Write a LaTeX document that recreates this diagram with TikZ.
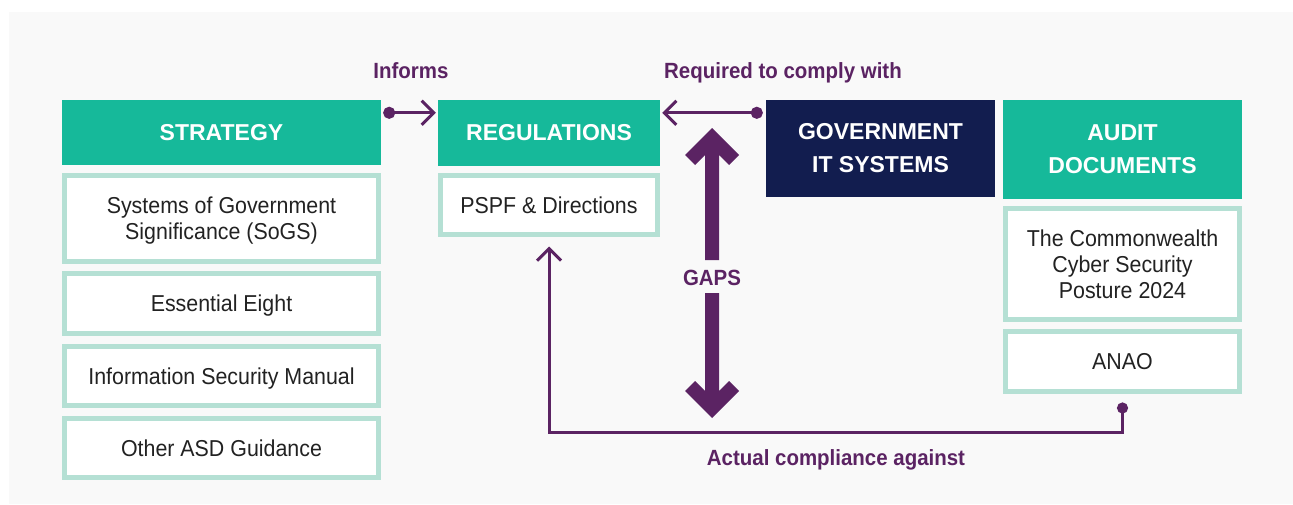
\documentclass[tikz,border=0pt]{standalone}
\usepackage{fontspec}
\usepackage{xcolor}
\usepackage{tikz}
\usetikzlibrary{positioning,arrows.meta}

\newfontfamily\headfont{Liberation Sans}
\newfontfamily\condfont[FakeStretch=0.93]{Liberation Sans}

\definecolor{headteal}{HTML}{16B99A}
\definecolor{itemline}{HTML}{B5E0D4}
\definecolor{govnavy}{HTML}{121D4F}
\definecolor{linkpurple}{HTML}{5B2363}
\definecolor{bggray}{HTML}{F9F9F9}
\definecolor{itemtext}{HTML}{222222}

\tikzset{
    head/.style={fill=headteal, text=white, align=center, inner sep=0pt,
        font=\headfont\bfseries\fontsize{23pt}{33pt}\selectfont},
    item/.style={draw=itemline, line width=5pt, fill=white, text=itemtext, align=center, inner sep=0pt,
        text depth=0pt, font=\condfont\fontsize{23pt}{26pt}\selectfont},
    lbl/.style={text=linkpurple, anchor=base, font=\condfont\bfseries\fontsize{22pt}{26pt}\selectfont},
    link/.style={draw=linkpurple, line width=3pt},
}

\begin{document}
\begin{tikzpicture}[x=1pt, y=-1pt]
    \useasboundingbox (0,0) rectangle (1293,504);
    \fill[white] (0,0) rectangle (1293,504);
    \fill[bggray] (9,12) rectangle (1293,504);

    % Strategy
    \node[head, minimum width=319pt, minimum height=65pt] (strategy) at (221.5,132.5) {STRATEGY};
    \node[item, minimum width=314pt, minimum height=86pt] (sogs) at (221.5,218.5) {Systems of Government\\Significance (SoGS)};
    \node[item, minimum width=314pt, minimum height=60pt] (eight) at (221.5,303.5) {Essential Eight};
    \node[item, minimum width=314pt, minimum height=59pt] (ism) at (221.5,376) {Information Security Manual};
    \node[item, minimum width=314pt, minimum height=59pt] (asd) at (221.5,448) {Other ASD Guidance};

    % Regulations
    \node[head, minimum width=222pt, minimum height=66pt] (regs) at (549,133) {REGULATIONS};
    \node[item, minimum width=217pt, minimum height=59pt] (pspf) at (549,205) {PSPF \& Directions};

    % Government IT systems
    \node[head, fill=govnavy, minimum width=229pt, minimum height=97pt] (govit) at (880.5,148.5) {GOVERNMENT\\IT SYSTEMS};

    % Audit documents
    \node[head, minimum width=239pt, minimum height=99pt] (audit) at (1122.5,149.5) {AUDIT\\DOCUMENTS};
    \node[item, minimum width=234pt, minimum height=111pt] (cw) at (1122.5,264) {The Commonwealth\\Cyber Security\\Posture 2024};
    \node[item, minimum width=234pt, minimum height=60pt] (anao) at (1122.5,361.5) {ANAO};

    % Links
    \node[lbl] (informs) at (411,78) {Informs};
    \node[lbl] (comply) at (783,78) {Required to comply with};
    \node[lbl] (actual) at (836,465) {Actual compliance against};
    \draw[link, {Circle[length=12pt]}-{Straight Barb[length=12pt,width=24pt]}]
        ([xshift=2pt,yshift=-13pt]strategy.north east) -- ([xshift=-2pt,yshift=-13pt]regs.north west);
    \draw[link, {Circle[length=12pt]}-{Straight Barb[length=12pt,width=24pt]}]
        ([xshift=-3pt,yshift=-13pt]govit.north west) -- ([xshift=2pt,yshift=-13pt]regs.north east);
    \coordinate (turn) at (549,432);
    \draw[link, {Circle[length=11pt]}-{Straight Barb[length=12pt,width=24pt]}]
        ([yshift=-8.5pt]anao.south) |- (turn) -- ([yshift=-9.5pt]pspf.south);

    % Gaps
    \node[lbl] (gaps) at (712,285) {GAPS};
    \foreach \tip/\dir/\len in {128/1/132, 418/-1/125}
        \fill[linkpurple, shift={(712,\tip)}, yscale=\dir]
            (0,0) -- (27,27) -- (17,37) -- (7,27) -- (7,\len) -- (-7,\len) -- (-7,27) -- (-17,37) -- (-27,27) -- cycle;
\end{tikzpicture}
\end{document}
